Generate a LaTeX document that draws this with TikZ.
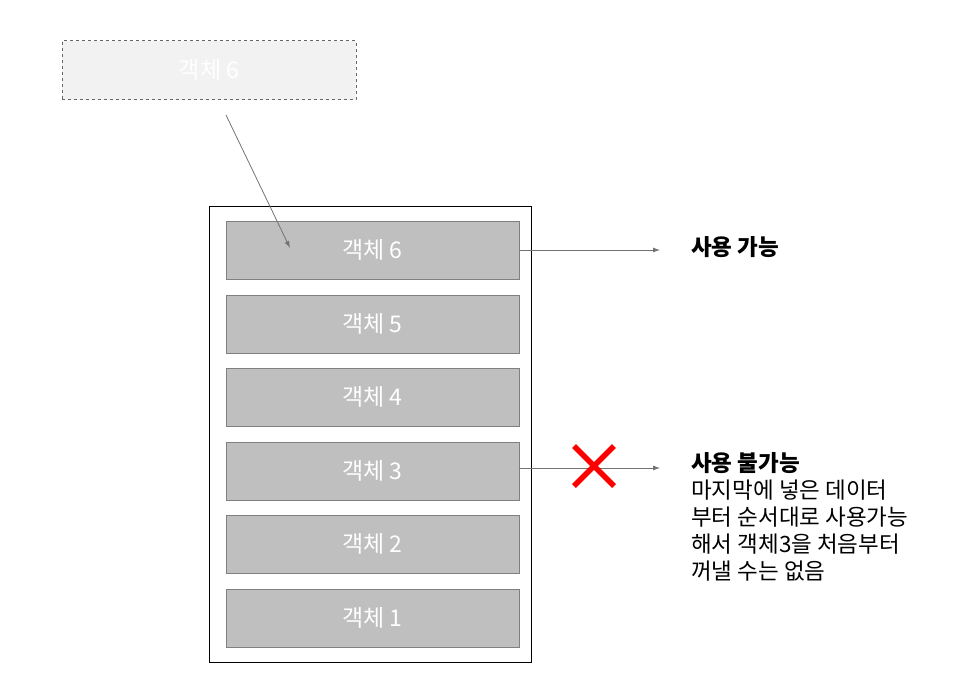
\documentclass[tikz,border=0pt]{standalone}
\usepackage{fontspec}
\setmainfont{Noto Sans CJK KR}
\begin{document}
\begin{tikzpicture}[x=1pt,y=-1pt,
  obj/.style={draw=black!50,fill=black!25,minimum width=293pt,minimum height=58pt,inner sep=0pt,text=white,font=\fontsize{23}{26}\selectfont},
  arr/.style={draw=black!55,line width=0.8pt,-{Latex[length=7pt,width=5pt]}},
  lab/.style={anchor=west,font=\fontsize{22.5}{27}\selectfont,align=left,inner sep=0pt}]
\usetikzlibrary{arrows.meta}
\useasboundingbox (0,0) rectangle (966,689);
\node[draw=black!60,dashed,fill=black!5,minimum width=294pt,minimum height=59pt,text=white,font=\fontsize{23}{26}\selectfont] (top) at (209,70) {객체 6};
\node[draw=black,line width=0.8pt,minimum width=322pt,minimum height=456pt] (cont) at (370,434) {};
\node[obj] (o6) at (372.5,250) {객체 6};
\node[obj] (o5) at (372.5,324) {객체 5};
\node[obj] (o4) at (372.5,397) {객체 4};
\node[obj] (o3) at (372.5,471) {객체 3};
\node[obj] (o2) at (372.5,544) {객체 2};
\node[obj] (o1) at (372.5,618) {객체 1};
\coordinate (s) at (226,115);
\coordinate (e) at (290,248);
\draw[arr] (s) -- (e);
\coordinate (a6) at (660,250);
\coordinate (a3) at (660,468);
\draw[arr] (o6.east) -- (a6);
\draw[arr] (o3.east |- a3) -- (a3);
\draw[red,line width=5.5pt] (574,446) -- (614,486) (614,446) -- (574,486);
\node[lab] (t1) at (691,247) {\textbf{사용 가능}};
\node[lab,anchor=north west] (t2) at (691,452) {\textbf{사용 불가능}\\마지막에 넣은 데이터\\부터 순서대로 사용가능\\해서 객체3을 처음부터\\꺼낼 수는 없음};
\end{tikzpicture}
\end{document}
